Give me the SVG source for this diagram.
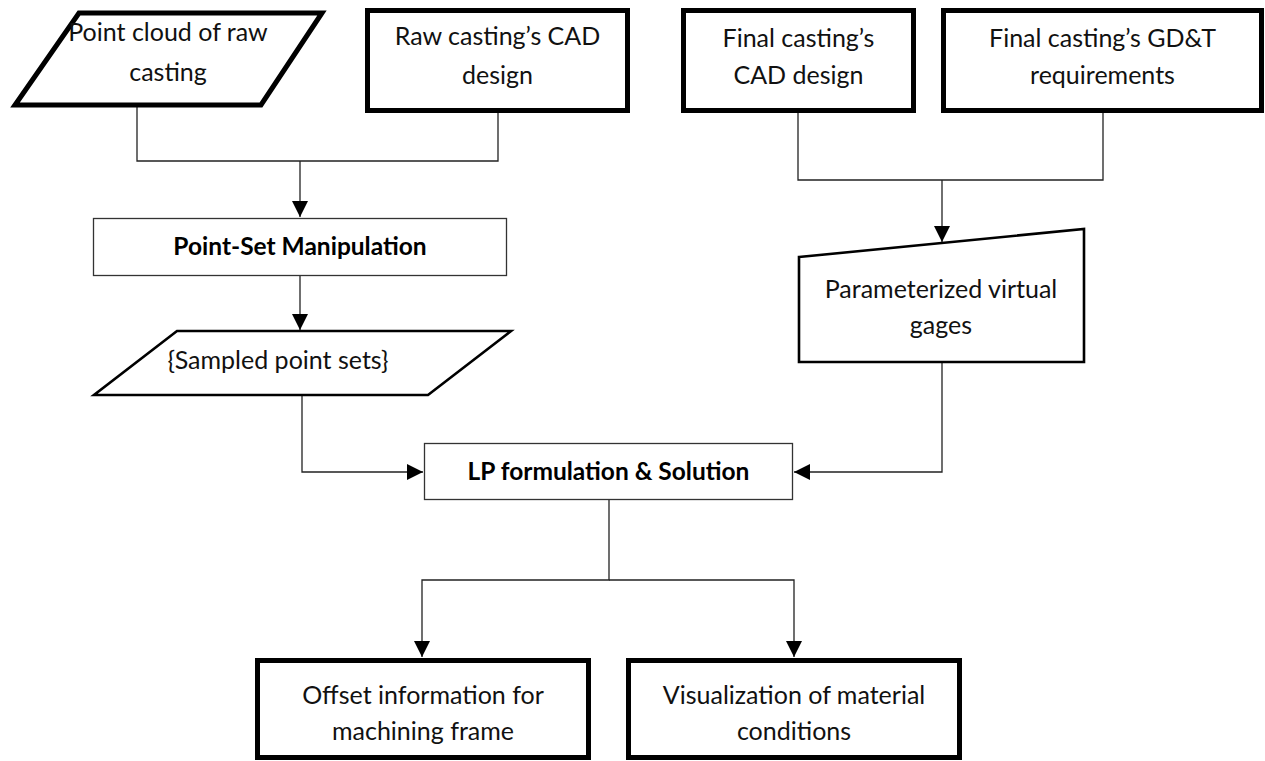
<svg xmlns="http://www.w3.org/2000/svg" width="1265" height="761" viewBox="0 0 1265 761">
  <style>
    .thick { fill: #fff; stroke: #000; stroke-width: 5; stroke-linejoin: miter; }
    .mid { fill: #fff; stroke: #000; stroke-width: 2.6; stroke-linejoin: miter; }
    .thin { fill: #fff; stroke: #333; stroke-width: 1.3; }
    .lbl { font-family: Lato, "Open Sans", "Liberation Sans", sans-serif; font-size: 25px; fill: #111; text-anchor: middle; }
    .bold { font-family: Lato, "Open Sans", "Liberation Sans", sans-serif; font-size: 24.5px; font-weight: bold; fill: #000; text-anchor: middle; }
    .conn { fill: none; stroke: #222; stroke-width: 1.3; }
  </style>
  <defs>
    <marker id="arrow" markerUnits="userSpaceOnUse" markerWidth="17" markerHeight="17" refX="16" refY="8" orient="auto">
      <path d="M0,0 L16,8 L0,16 Z" fill="#000"/>
    </marker>
  </defs>
  <rect x="0" y="0" width="1265" height="761" fill="#fff"/>

  <!-- connectors -->
  <g id="connectors">
    <polyline class="conn" points="137,107 137,161 498,161 498,113"/>
    <line class="conn" x1="300" y1="161" x2="300" y2="217" marker-end="url(#arrow)"/>
    <line class="conn" x1="300" y1="276" x2="300" y2="330" marker-end="url(#arrow)"/>
    <polyline class="conn" points="798,113 798,180 1103,180 1103,113"/>
    <line class="conn" x1="942" y1="180" x2="942" y2="242" marker-end="url(#arrow)"/>
    <polyline class="conn" points="302,395 302,472 423,472" marker-end="url(#arrow)"/>
    <polyline class="conn" points="942,362 942,472 794,472" marker-end="url(#arrow)"/>
    <polyline class="conn" points="609,500 609,580 422,580 422,657" marker-end="url(#arrow)"/>
    <polyline class="conn" points="609,580 794,580 794,657" marker-end="url(#arrow)"/>
  </g>

  <!-- top row: inputs -->
  <g id="point-cloud">
    <polygon class="thick" points="79,13 322,13 261,105 15,105"/>
    <text class="lbl" x="168" y="41">Point cloud of raw</text>
    <text class="lbl" x="168" y="81">casting</text>
  </g>
  <g id="raw-cad">
    <rect class="thick" x="367.5" y="10.5" width="260" height="100"/>
    <text class="lbl" x="497.5" y="45">Raw casting’s CAD</text>
    <text class="lbl" x="497.5" y="84">design</text>
  </g>
  <g id="final-cad">
    <rect class="thick" x="683.5" y="10.5" width="230" height="100"/>
    <text class="lbl" x="798.5" y="47">Final casting’s</text>
    <text class="lbl" x="798.5" y="84">CAD design</text>
  </g>
  <g id="final-gdt">
    <rect class="thick" x="943.5" y="10.5" width="318" height="100"/>
    <text class="lbl" x="1102.5" y="47">Final casting’s GD&amp;T</text>
    <text class="lbl" x="1102.5" y="84">requirements</text>
  </g>

  <!-- processing -->
  <g id="point-set-manipulation">
    <rect class="thin" x="93.5" y="218.5" width="413" height="57"/>
    <text class="bold" x="300" y="255">Point-Set Manipulation</text>
  </g>
  <g id="sampled-point-sets">
    <polygon class="mid" points="177,331 511,331 428,395 94,395"/>
    <text class="lbl" x="278" y="369">{Sampled point sets}</text>
  </g>
  <g id="virtual-gages">
    <polygon class="mid" points="799,257 1084,229 1084,362 799,362"/>
    <text class="lbl" x="941" y="298">Parameterized virtual</text>
    <text class="lbl" x="941" y="334">gages</text>
  </g>
  <g id="lp-solution">
    <rect class="thin" x="424.5" y="443.5" width="368" height="56"/>
    <text class="bold" x="608.5" y="480">LP formulation &amp; Solution</text>
  </g>

  <!-- outputs -->
  <g id="offset-info">
    <rect class="thick" x="257.5" y="660.5" width="331" height="97"/>
    <text class="lbl" x="423" y="704">Offset information for</text>
    <text class="lbl" x="423" y="740">machining frame</text>
  </g>
  <g id="material-conditions">
    <rect class="thick" x="628.5" y="660.5" width="331" height="97"/>
    <text class="lbl" x="794" y="704">Visualization of material</text>
    <text class="lbl" x="794" y="740">conditions</text>
  </g>
</svg>
